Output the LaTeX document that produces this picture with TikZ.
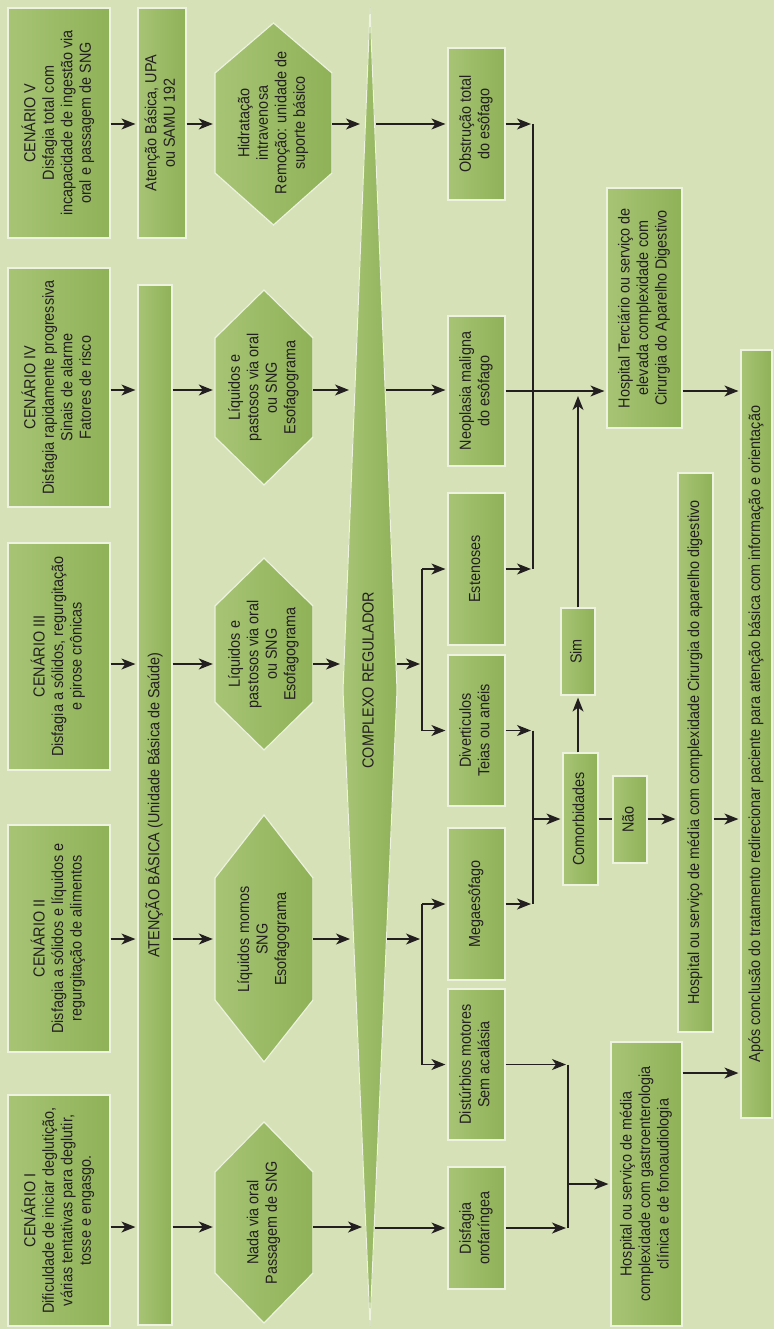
\documentclass[tikz,border=0pt]{standalone}
\usepackage{fontspec}
\setmainfont{Liberation Sans}[FakeStretch=0.9]
\usepackage{graphicx}
\usetikzlibrary{arrows.meta}
\definecolor{bg}{HTML}{D6E1B7}
\definecolor{boxlight}{HTML}{C3D89C}
\definecolor{boxmid}{HTML}{A7C475}
\definecolor{boxdark}{HTML}{8FB157}
\definecolor{rim}{HTML}{EDF3DE}
\definecolor{ink}{HTML}{231F20}
\newcommand{\vtext}[1]{\rotatebox{90}{\begin{tabular}{@{}c@{}}#1\end{tabular}}}
\begin{document}
\begin{tikzpicture}[x=1pt, y=-1pt,
    font=\fontsize{16}{18.5}\selectfont, text=ink,
    box/.style={draw=rim, line width=1.2pt, left color=boxmid, middle color=boxlight, right color=boxdark, inner sep=0pt},
    hexfill/.style={draw=rim, line width=1.2pt, left color=boxmid, middle color=boxlight, right color=boxdark},
    hextxt/.style={inner sep=0pt},
    arr/.style={draw=ink, line width=1.3pt, -{Stealth[length=14pt,width=11pt,inset=4pt]}, shorten >=2pt},
    link/.style={draw=ink, line width=1.3pt}]
  \fill[bg] (0,0) rectangle (774,1329);
  \useasboundingbox (0,0) rectangle (774,1329);

  % rows
  \coordinate (r5) at (0,124);
  \coordinate (r4) at (0,390);
  \coordinate (r3) at (0,664);
  \coordinate (r2) at (0,939);
  \coordinate (r1) at (0,1227);
  \coordinate (jB) at (422,0);
  \coordinate (jA) at (533,0);
  \coordinate (jC) at (568,0);

  % scenarios
  \node [box, minimum width=102pt, minimum height=230pt] (s5) at (59,123) {\vtext{CENÁRIO V\\Disfagia total com\\incapacidade de ingestão via\\oral e  passagem de SNG}};
  \node [box, minimum width=102pt, minimum height=239pt] (s4) at (59,387.5) {\vtext{CENÁRIO IV\\Disfagia rapidamente progressiva\\Sinais de alarme\\Fatores de risco}};
  \node [box, minimum width=102pt, minimum height=227pt] (s3) at (59,656.5) {\vtext{CENÁRIO III\\Disfagia a sólidos, regurgitação\\e pirose crônicas}};
  \node [box, minimum width=102pt, minimum height=227pt] (s2) at (59,938.5) {\vtext{CENÁRIO II\\Disfagia a sólidos e líquidos e\\regurgitação de alimentos}};
  \node [box, minimum width=102pt, minimum height=231pt] (s1) at (59,1210.5) {\vtext{CENÁRIO I\\Dificuldade de iniciar deglutição,\\várias tentativas para deglutir,\\tosse e engasgo.}};

  % primary care
  \node [box, minimum width=48pt, minimum height=230pt] (upa) at (162,123) {\vtext{Atenção Básica, UPA\\ou SAMU 192}};
  \node [box, minimum width=34pt, minimum height=1040pt] (ab) at (155,805) {\vtext{ATENÇÃO BÁSICA (Unidade Básica de Saúde)}};

  % hexagons
  \filldraw [hexfill] (215,73) -- (273.5,23) -- (332,73) -- (332,173) -- (273.5,225) -- (215,173) -- cycle;
  \node [hextxt, minimum width=117pt, minimum height=100pt] (hV) at (273.5,123) {\vtext{Hidratação\\intravenosa\\Remoção: unidade de\\suporte  básico}};
  \filldraw [hexfill] (215,338) -- (264,290) -- (313,338) -- (313,437) -- (264,485) -- (215,437) -- cycle;
  \node [hextxt, minimum width=98pt, minimum height=99pt] (hIV) at (264,387.5) {\vtext{Líquidos  e\\pastosos via oral\\ou SNG\\Esofagograma}};
  \filldraw [hexfill] (215,606) -- (264,558) -- (313,606) -- (313,702) -- (264,750) -- (215,702) -- cycle;
  \node [hextxt, minimum width=98pt, minimum height=96pt] (hIII) at (264,654) {\vtext{Líquidos e\\pastosos via oral\\ou SNG\\Esofagograma}};
  \filldraw [hexfill] (215,878) -- (264,815) -- (313,878) -- (313,1000) -- (264,1062) -- (215,1000) -- cycle;
  \node [hextxt, minimum width=98pt, minimum height=122pt] (hII) at (264,939) {\vtext{Líquidos mornos\\SNG\\Esofagograma}};
  \filldraw [hexfill] (215,1172) -- (264,1122) -- (313,1172) -- (313,1273) -- (264,1323) -- (215,1273) -- cycle;
  \node [hextxt, minimum width=98pt, minimum height=101pt] (hI) at (264,1222.5) {\vtext{Nada via oral\\Passagem de SNG}};

  % regulator
  \filldraw [hexfill, line width=1pt] (370,8) -- (397,690) -- (370,1326) -- (343,690) -- cycle;
  \node [hextxt] (cr) at (370,680) {\vtext{COMPLEXO REGULADOR}};
  \coordinate (c5i) at (362,124);  \coordinate (c5o) at (376,124);
  \coordinate (c4i) at (351,390);  \coordinate (c4o) at (386,390);
  \coordinate (c3i) at (342,664);  \coordinate (c3o) at (397,664);
  \coordinate (c2i) at (352,939);  \coordinate (c2o) at (387,939);
  \coordinate (c1i) at (364,1227); \coordinate (c1o) at (375,1228);

  % diagnoses
  \node [box, minimum width=57pt, minimum height=152pt] (obs) at (476.5,124) {\vtext{Obstrução total\\do esôfago}};
  \node [box, minimum width=57pt, minimum height=150pt] (neo) at (476.5,391) {\vtext{Neoplasia maligna\\do esôfago}};
  \node [box, minimum width=57pt, minimum height=152pt] (est) at (476.5,569) {\vtext{Estenoses}};
  \node [box, minimum width=57pt, minimum height=151pt] (div) at (476.5,730.5) {\vtext{Diverticulos\\Teias ou anéis}};
  \node [box, minimum width=57pt, minimum height=152pt] (mega) at (476.5,904) {\vtext{Megaesôfago}};
  \node [box, minimum width=57pt, minimum height=151pt] (dist) at (476.5,1064.5) {\vtext{Distúrbios motores\\Sem acalásia}};
  \node [box, minimum width=57pt, minimum height=122pt] (oro) at (476.5,1228) {\vtext{Disfagia\\orofaríngea}};

  % comorbidities
  \node [box, minimum width=34pt, minimum height=87pt] (sim) at (578,651.5) {\vtext{Sim}};
  \node [box, minimum width=35pt, minimum height=132pt] (com) at (580.5,819) {\vtext{Comorbidades}};
  \node [box, minimum width=34pt, minimum height=87pt] (nao) at (630,819.5) {\vtext{Não}};

  % hospitals
  \node [box, minimum width=75pt, minimum height=240pt] (hter) at (644.5,308) {\vtext{Hospital Terciário ou serviço de\\elevada complexidade com\\Cirurgia do Aparelho Digestivo}};
  \node [box, minimum width=35pt, minimum height=559pt] (hmc) at (695.5,752.5) {\vtext{Hospital ou serviço de média com complexidade Cirurgia do aparelho digestivo}};
  \node [box, minimum width=71pt, minimum height=284pt] (hmg) at (646.5,1184) {\vtext{Hospital ou serviço de média\\complexidade com gastroenterologia\\clínica e de fonoaudiologia}};
  \node [box, minimum width=31pt, minimum height=768pt] (apos) at (756.5,734) {\vtext{Após conclusão do tratamento redirecionar paciente para atenção básica com informação e orientação}};

  % row V
  \draw [arr] (s5.east |- r5) -- (upa.west |- r5);
  \draw [arr] (upa.east |- r5) -- (hV.west |- r5);
  \draw [arr] (hV.east |- r5) -- (c5i);
  \draw [arr] (c5o) -- (obs.west);
  \draw [arr] (obs.east) -- (jA |- obs.east);
  \draw [link] (jA |- obs.east) -- (jA |- est.east);
  \draw [arr] (est.east) -- (jA |- est.east);

  % row IV
  \draw [arr] (s4.east |- r4) -- (ab.west |- r4);
  \draw [arr] (ab.east |- r4) -- (hIV.west |- r4);
  \draw [arr] (hIV.east |- r4) -- (c4i);
  \draw [arr] (c4o) -- (neo.west |- r4);
  \draw [arr] (neo.east) -- (hter.west |- neo.east);
  \draw [arr, shorten >=5pt] (sim.north) -- (sim.north |- neo.east);
  \draw [arr] (hter.east |- neo.east) -- (apos.west |- neo.east);

  % row III
  \draw [arr] (s3.east |- r3) -- (ab.west |- r3);
  \draw [arr] (ab.east |- r3) -- (hIII.west |- r3);
  \draw [arr] (hIII.east |- r3) -- (c3i);
  \draw [arr] (c3o) -- (jB |- r3);
  \draw [link] (jB |- est.west) -- (jB |- div.west);
  \draw [arr] (jB |- est.west) -- (est.west);
  \draw [arr] (jB |- div.west) -- (div.west);
  \draw [arr] (div.east) -- (jA |- div.east);
  \draw [link] (jA |- div.east) -- (jA |- mega.east);
  \draw [arr] (mega.east) -- (jA |- mega.east);
  \draw [arr] (jA |- com.west) -- (com.west);
  \draw [arr] (sim.south |- com.north) -- (sim.south);
  \draw [link] (com.east) -- (nao.west |- com.east);
  \draw [arr] (nao.east |- com.east) -- (hmc.west |- com.east);
  \draw [arr] (hmc.east |- com.east) -- (apos.west |- com.east);

  % row II
  \draw [arr] (s2.east |- r2) -- (ab.west |- r2);
  \draw [arr] (ab.east |- r2) -- (hII.west |- r2);
  \draw [arr] (hII.east |- r2) -- (c2i);
  \draw [arr] (c2o) -- (jB |- r2);
  \draw [link] (jB |- mega.west) -- (jB |- dist.west);
  \draw [arr] (jB |- mega.west) -- (mega.west);
  \draw [arr] (jB |- dist.west) -- (dist.west);
  \draw [arr] (dist.east) -- (jC |- dist.east);
  \draw [link] (jC |- dist.east) -- (jC |- oro.east);
  \draw [arr] (oro.east) -- (jC |- oro.east);
  \draw [arr] (jC |- hmg.west) -- (hmg.west);
  \draw [arr] ([yshift=111pt]hmg.east) -- ([yshift=111pt]hmg.east -| apos.west);

  % row I
  \draw [arr] (s1.east |- r1) -- (ab.west |- r1);
  \draw [arr] (ab.east |- r1) -- (hI.west |- r1);
  \draw [arr] (hI.east |- r1) -- (c1i);
  \draw [arr] (c1o) -- (oro.west);
\end{tikzpicture}
\end{document}
